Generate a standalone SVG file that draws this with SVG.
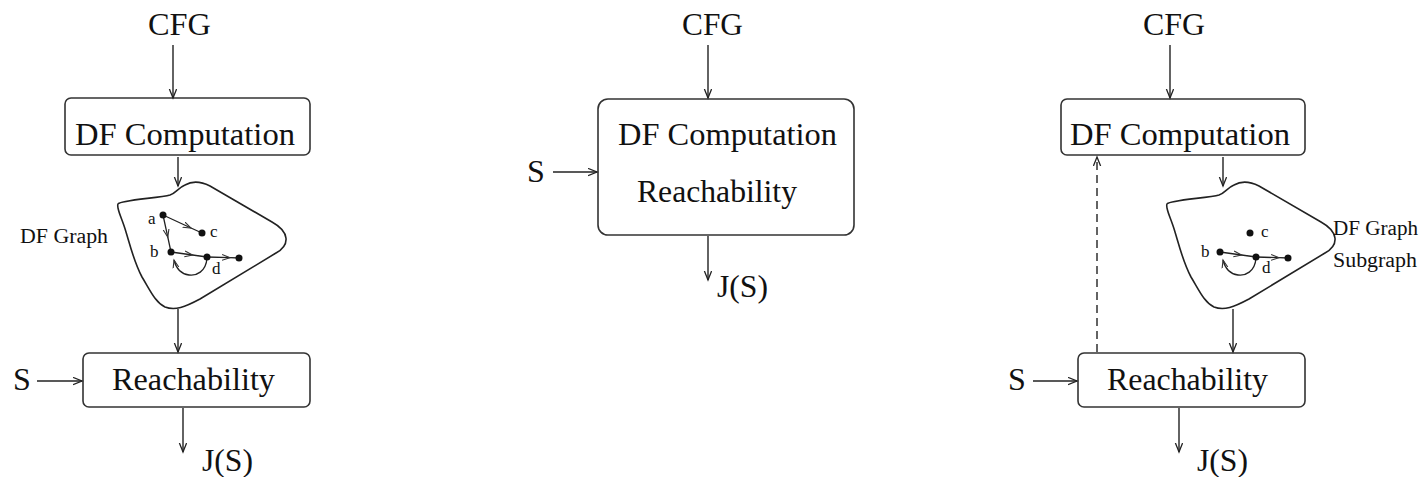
<svg xmlns="http://www.w3.org/2000/svg" width="1420" height="477" viewBox="0 0 1420 477">
  <style>
    .lbl { font-family: "Liberation Serif", "Times New Roman", serif; font-size: 32px; fill: #111; }
    .sm { font-family: "Liberation Serif", "Times New Roman", serif; font-size: 20px; fill: #111; }
    .pt { font-family: "Liberation Serif", "Times New Roman", serif; font-size: 17px; fill: #111; }
    .box { fill: #fff; stroke: #333; stroke-width: 1.6; }
    .blob { fill: none; stroke: #222; stroke-width: 1.6; }
    .wire { fill: none; stroke: #222; stroke-width: 1.4; marker-end: url(#head); }
    .dash { stroke-dasharray: 8 5; }
    .edge { fill: none; stroke: #222; stroke-width: 1.3; }
    .mid { marker-mid: url(#tip); }
    .end { marker-end: url(#tip); }
    .dot { fill: #111; }
  </style>
  <defs>
    <marker id="head" markerUnits="userSpaceOnUse" markerWidth="12" markerHeight="10" refX="9" refY="4" orient="auto">
      <path d="M0,0.4 L9,4 L0,7.6" fill="none" stroke="#222" stroke-width="1.3"/>
    </marker>
    <marker id="tip" markerUnits="userSpaceOnUse" markerWidth="10" markerHeight="8" refX="8" refY="3.5" orient="auto">
      <path d="M0,0.6 L8,3.5 L0,6.4" fill="none" stroke="#333" stroke-width="1.1"/>
    </marker>
    <path id="blobShape" d="M118,204 C120,200 160,198 170,195 C176,193 178,188 185,185 C192,181 200,181 210,186 L272,222 C290,232 290,245 276,253 L200,299 C185,307 175,311 165,307 C155,302 150,290 142,277 C134,262 130,245 126,232 C122,218 116,208 118,204 Z"/>
  </defs>

  <rect width="1420" height="477" fill="#fff"/>

  <!-- left pipeline: separate DF computation and reachability -->
  <g id="left-cfg"><text class="lbl" x="148" y="35" textLength="63" lengthAdjust="spacingAndGlyphs">CFG</text></g>
  <g id="left-df-computation">
    <rect class="box" x="65" y="98" width="245" height="57" rx="6"/>
    <text class="lbl" x="75" y="145" textLength="220" lengthAdjust="spacingAndGlyphs">DF Computation</text>
  </g>
  <g id="left-df-graph">
    <use href="#blobShape" class="blob"/>
    <text class="sm" x="20" y="243" textLength="88" lengthAdjust="spacingAndGlyphs">DF Graph</text>
    <path class="edge mid" d="M163,215 L191,228 L202,233"/>
    <path class="edge mid" d="M163,215 L167.8,237.2 L171,252"/>
    <path class="edge mid" d="M171,252 L192.6,255 L207,257"/>
    <path class="edge mid" d="M207,257 L230,257.7 L239,258"/>
    <path class="edge end" d="M207,258 C206,272 196,276 189,275 C181,274 176,268 174,260"/>
    <circle class="dot" cx="163" cy="215" r="3.5"/>
    <circle class="dot" cx="202" cy="233" r="3.5"/>
    <circle class="dot" cx="171" cy="252" r="3.5"/>
    <circle class="dot" cx="207" cy="257" r="3.5"/>
    <circle class="dot" cx="239" cy="258" r="3.5"/>
    <text class="pt" x="148" y="224">a</text>
    <text class="pt" x="210" y="237">c</text>
    <text class="pt" x="150" y="257">b</text>
    <text class="pt" x="212" y="274">d</text>
  </g>
  <g id="left-reachability">
    <rect class="box" x="83" y="353" width="227" height="54" rx="6"/>
    <text class="lbl" x="112" y="390" textLength="163" lengthAdjust="spacingAndGlyphs">Reachability</text>
  </g>
  <g id="left-s"><text class="lbl" x="13" y="390">S</text></g>
  <g id="left-js"><text class="lbl" x="202" y="471" textLength="51" lengthAdjust="spacingAndGlyphs">J(S)</text></g>

  <!-- middle pipeline: combined box -->
  <g id="mid-cfg"><text class="lbl" x="682" y="35" textLength="61" lengthAdjust="spacingAndGlyphs">CFG</text></g>
  <g id="mid-combined">
    <rect class="box" x="598" y="99" width="256" height="136" rx="10"/>
    <text class="lbl" x="618" y="145" textLength="219" lengthAdjust="spacingAndGlyphs">DF Computation</text>
    <text class="lbl" x="637" y="202" textLength="160" lengthAdjust="spacingAndGlyphs">Reachability</text>
  </g>
  <g id="mid-s"><text class="lbl" x="527" y="182">S</text></g>
  <g id="mid-js"><text class="lbl" x="717" y="297" textLength="51" lengthAdjust="spacingAndGlyphs">J(S)</text></g>

  <!-- right pipeline: reachability feeds back to DF computation -->
  <g id="right-cfg"><text class="lbl" x="1143" y="35" textLength="62" lengthAdjust="spacingAndGlyphs">CFG</text></g>
  <g id="right-df-computation">
    <rect class="box" x="1061" y="99" width="244" height="56" rx="6"/>
    <text class="lbl" x="1070" y="145" textLength="220" lengthAdjust="spacingAndGlyphs">DF Computation</text>
  </g>
  <g id="right-df-subgraph">
    <use href="#blobShape" class="blob" transform="translate(1049,0)"/>
    <text class="sm" x="1333" y="235" textLength="85" lengthAdjust="spacingAndGlyphs">DF Graph</text>
    <text class="sm" x="1333" y="267" textLength="84" lengthAdjust="spacingAndGlyphs">Subgraph</text>
    <path class="edge mid" d="M1220,252 L1241.6,255 L1256,257"/>
    <path class="edge mid" d="M1256,257 L1279,257.7 L1288,258"/>
    <path class="edge end" d="M1256,258 C1255,272 1245,276 1238,275 C1230,274 1225,268 1223,260"/>
    <circle class="dot" cx="1250" cy="233" r="3.5"/>
    <circle class="dot" cx="1220" cy="252" r="3.5"/>
    <circle class="dot" cx="1256" cy="257" r="3.5"/>
    <circle class="dot" cx="1288" cy="258" r="3.5"/>
    <text class="pt" x="1261" y="237">c</text>
    <text class="pt" x="1201" y="257">b</text>
    <text class="pt" x="1262" y="273">d</text>
  </g>
  <g id="right-reachability">
    <rect class="box" x="1078" y="353" width="227" height="54" rx="6"/>
    <text class="lbl" x="1107" y="390" textLength="161" lengthAdjust="spacingAndGlyphs">Reachability</text>
  </g>
  <g id="right-s"><text class="lbl" x="1008" y="390">S</text></g>
  <g id="right-js"><text class="lbl" x="1197" y="471" textLength="51" lengthAdjust="spacingAndGlyphs">J(S)</text></g>

  <g id="connectors">
    <path class="wire" d="M173,45 V98"/>
    <path class="wire" d="M178,157 V186"/>
    <path class="wire" d="M178,309 V352"/>
    <path class="wire" d="M37,381 H82"/>
    <path class="wire" d="M183,408 V452"/>

    <path class="wire" d="M708,45 V98"/>
    <path class="wire" d="M553,172 H597"/>
    <path class="wire" d="M708,236 V280"/>

    <path class="wire" d="M1170,45 V98"/>
    <path class="wire" d="M1223,157 V186"/>
    <path class="wire" d="M1233,309 V352"/>
    <path class="wire" d="M1033,381 H1077"/>
    <path class="wire" d="M1179,408 V452"/>
    <path class="wire dash" d="M1097,352 V157"/>
  </g>
</svg>
